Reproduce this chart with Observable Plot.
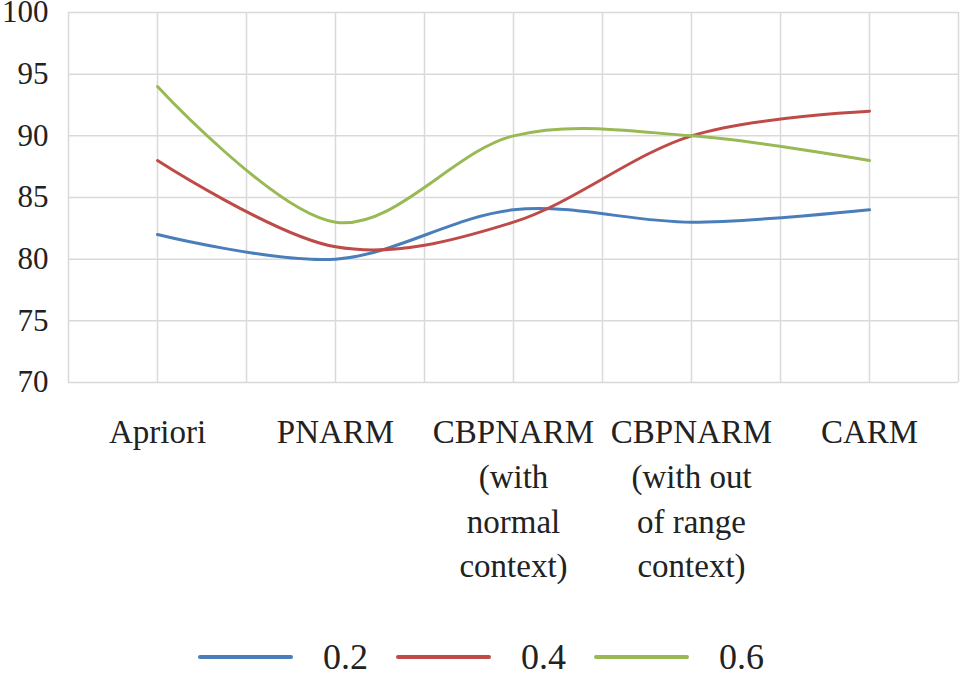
<!DOCTYPE html>
<html>
<head>
<meta charset="utf-8">
<script src="https://cdn.jsdelivr.net/npm/d3@7"></script>
<script src="https://cdn.jsdelivr.net/npm/@observablehq/plot@0.6"></script>
<style>
  html, body { margin: 0; padding: 0; background: #fff; }
  #chart { width: 962px; height: 675px; position: relative; }
  #legend { position: absolute; left: 198px; top: 637px; height: 40px; display: flex; align-items: center; font-size: 36px; color: #222; }
  .item { display: flex; align-items: center; }
  .swatch { width: 95px; height: 4px; border-radius: 2px; }
  .label { margin-left: 30px; margin-right: 28px; line-height: 40px; }
</style>
</head>
<body>
<div id="chart" style="font-family:'Liberation Serif'"></div>
<script>
const FONT = "Liberation Serif";
const categories = ["Apriori", "PNARM", "CBPNARM\n(with\nnormal\ncontext)", "CBPNARM\n(with out\nof range\ncontext)", "CARM"];
const seriesNames = ["0.2", "0.4", "0.6"];
const values02 = [82, 80, 84, 83, 84];
const values04 = [88, 81, 83, 90, 92];
const values06 = [94, 83, 90, 90, 88];
const colors = ["#4a7ebb", "#be4b48", "#98b954"];
const yTicks = [70, 75, 80, 85, 90, 95, 100];

const allValues = [values02, values04, values06];
const data = [];
seriesNames.forEach((s, si) => {
  allValues[si].forEach((v, i) => data.push({series: s, index: i, category: categories[i], value: v}));
});
const xGrid = d3.range(-0.5, categories.length, 0.5);

const chart = Plot.plot({
  width: 962,
  height: 620,
  marginLeft: 68,
  marginRight: 4,
  marginTop: 12,
  marginBottom: 238,
  style: {background: "#fff", color: "#222"},
  x: {domain: [-0.5, categories.length - 0.5], axis: null},
  y: {domain: [70, 100], axis: null},
  color: {domain: seriesNames, range: colors},
  marks: [
    Plot.ruleY(yTicks, {stroke: "#d9d9d9", strokeWidth: 1.5}),
    Plot.ruleX(xGrid, {stroke: "#d9d9d9", strokeWidth: 1.5}),
    Plot.axisY(yTicks, {tickSize: 0, tickPadding: 20, fontSize: 31, fontFamily: FONT, anchor: "left", label: null, fill: "#222"}),
    Plot.axisX(d3.range(categories.length), {
      tickSize: 0, tickPadding: 29, fontSize: 33, fontFamily: FONT, lineHeight: 1.355, lineAnchor: "top",
      tickFormat: i => categories[i], label: null, anchor: "bottom", fill: "#222"
    }),
    Plot.line(data, {x: "index", y: "value", z: "series", stroke: "series", strokeWidth: 3, curve: "cardinal"})
  ]
});
chart.querySelectorAll("text, tspan, g").forEach(el => {
  if (el.tagName.toLowerCase() !== "g" || el.getAttribute("font-family")) {
    el.setAttribute("font-family", FONT);
    el.style.fontFamily = "'" + FONT + "'";
  }
});
document.getElementById("chart").appendChild(chart);

const legend = document.createElement("div");
legend.id = "legend";
legend.setAttribute("style", legend.getAttribute("style") || "");
legend.style.fontFamily = "'" + FONT + "'";
seriesNames.forEach((s, i) => {
  const item = document.createElement("div");
  item.className = "item";
  const sw = document.createElement("div");
  sw.className = "swatch";
  sw.style.background = colors[i];
  const lab = document.createElement("span");
  lab.className = "label";
  lab.style.fontFamily = "'" + FONT + "'";
  lab.textContent = s;
  item.appendChild(sw);
  item.appendChild(lab);
  legend.appendChild(item);
});
document.getElementById("chart").appendChild(legend);
</script>
</body>
</html>
